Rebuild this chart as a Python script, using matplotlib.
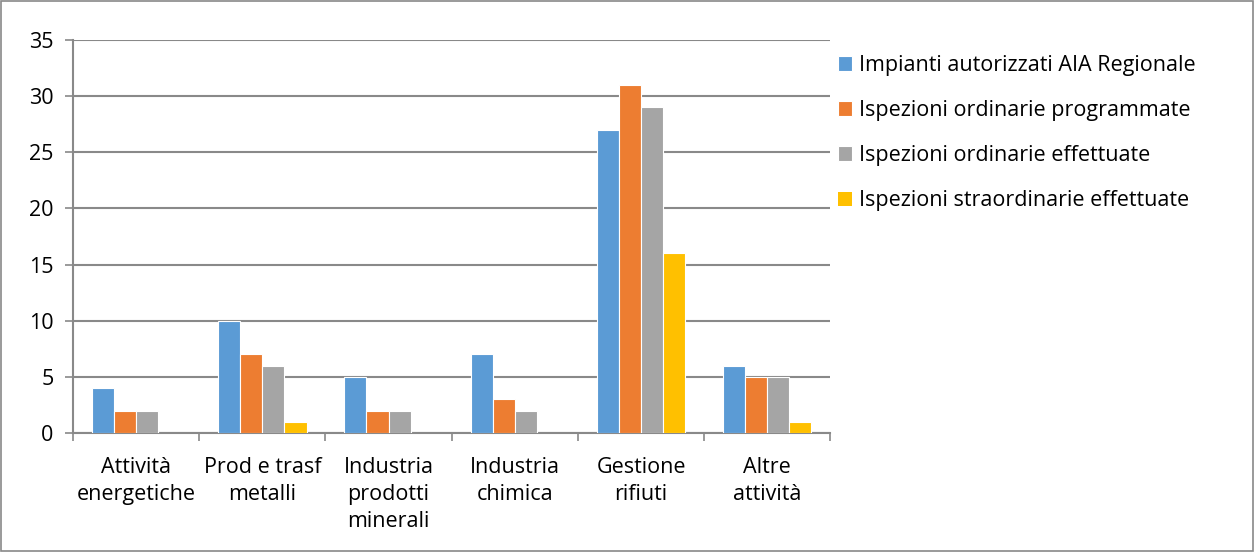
import matplotlib
matplotlib.use("Agg")
from matplotlib import pyplot as plt
import numpy as np

categories = ["Attività\nenergetiche", "Prod e trasf\nmetalli", "Industria\nprodotti\nminerali",
              "Industria\nchimica", "Gestione\nrifiuti", "Altre\nattività"]
series_names = ["Impianti autorizzati AIA Regionale", "Ispezioni ordinarie programmate",
                "Ispezioni ordinarie effettuate", "Ispezioni straordinarie effettuate"]
impianti = [4, 10, 5, 7, 27, 6]
programmate = [2, 7, 2, 3, 31, 5]
effettuate = [2, 6, 2, 2, 29, 5]
straordinarie = [0, 1, 0, 0, 16, 1]
colors = ["#5B9BD5", "#ED7D31", "#A5A5A5", "#FFC000"]
yticks = [0, 5, 10, 15, 20, 25, 30, 35]

plt.rcParams['font.family'] = ['Open Sans', 'DejaVu Sans']
grid_c = "#898989"
fs = 15.5

fig = plt.figure(figsize=(12.54, 5.52), dpi=100)
ax = fig.add_axes([0.0582, 0.2156, 0.6040, 0.7119])

x = np.arange(len(categories))
w = 0.175
for i, vals in enumerate([impianti, programmate, effettuate, straordinarie]):
    bars = ax.bar(x + (i - 1.5) * w, vals, w, color=colors[i], edgecolor="white",
                  linewidth=0.8, label=series_names[i], zorder=3)
    for p, v in zip(bars.patches, vals):
        if v == 0:
            p.set_linewidth(0)

ax.set_xlim(-0.5, len(categories) - 0.5)
ax.set_ylim(0, 35)
ax.set_yticks(yticks)
ax.yaxis.grid(True, color=grid_c, linewidth=1.5, zorder=0)
ax.tick_params(axis='y', length=6, color=grid_c, width=1.2, labelsize=fs, pad=8)
ax.set_xticks(np.arange(-0.5, len(categories)), minor=False)
ax.set_xticklabels([])
ax.tick_params(axis='x', length=6, color=grid_c, width=1.2)
for xi, lab in zip(x, categories):
    ax.text(xi, -2.15, lab, ha="center", va="top", fontsize=fs, linespacing=1.38)
for s in ["top", "right"]:
    ax.spines[s].set_visible(False)
for s in ["left", "bottom"]:
    ax.spines[s].set_color(grid_c)
    ax.spines[s].set_linewidth(1.5)

leg = fig.legend(loc="upper left", bbox_to_anchor=(0.66, 0.92), frameon=False,
                 fontsize=fs, handlelength=0.65, handleheight=0.65, handletextpad=0.3,
                 labelspacing=1.12, borderpad=0)

# figure border
fig.patches.append(plt.Rectangle((0.001, 0.002), 0.998, 0.996, transform=fig.transFigure,
                                 fill=False, edgecolor=grid_c, linewidth=1.2))

fig.savefig("out.png", dpi=100)
